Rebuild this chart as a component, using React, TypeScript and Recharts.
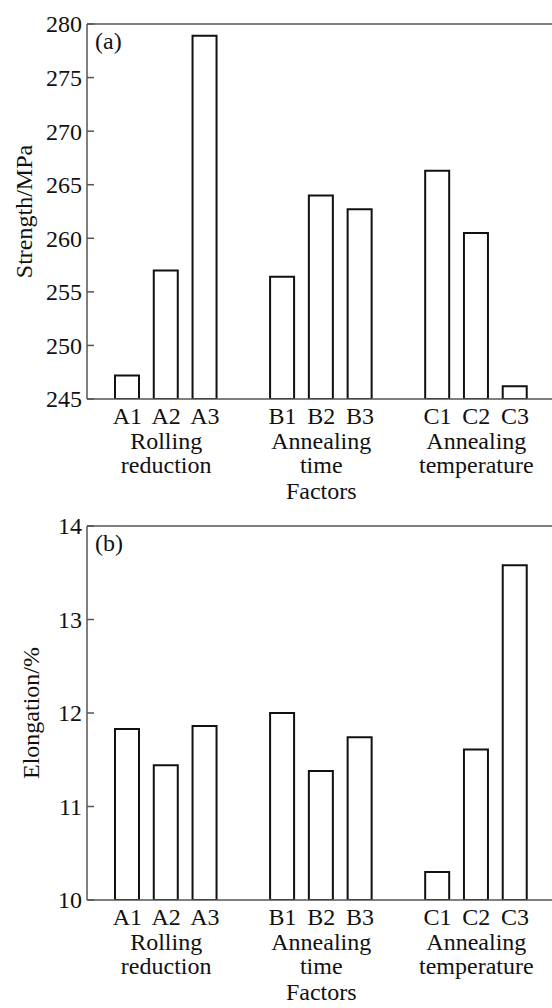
import { BarChart, Bar, XAxis, YAxis, ReferenceLine } from "recharts";

// categories with two empty slots separating the three factor groups
const categories = ["A1", "A2", "A3", "_g1", "B1", "B2", "B3", "_g2", "C1", "C2", "C3"];
const strength = [247.2, 257.0, 278.9, null, 256.4, 264.0, 262.7, null, 266.3, 260.5, 246.2];
const elongation = [11.83, 11.44, 11.86, null, 12.0, 11.38, 11.74, null, 10.3, 11.61, 13.58];

const strengthTicks = [245, 250, 255, 260, 265, 270, 275, 280];
const elongationTicks = [10, 11, 12, 13, 14];

const groupCenters = ["A2", "B2", "C2"];
const groupLines = [
  ["Rolling", "reduction"],
  ["Annealing", "time"],
  ["Annealing", "temperature"],
];

const FONT = "Liberation Serif, DejaVu Serif, serif";
const FS = 24;
const TEXT = "#111";
const AXIS = "#555";
const txt = { fontFamily: FONT, fontSize: FS };

const YTick = ({ x, y, payload }: any) => (
  <g>
    <line x1={x} x2={x + 7} y1={y} y2={y} stroke={AXIS} strokeWidth={1.5} />
    <text x={x - 5} y={y} dy="0.35em" textAnchor="end" style={txt} fill={TEXT}>
      {payload.value}
    </text>
  </g>
);

const XTick = ({ x, y, payload }: any) => {
  const name = String(payload.value);
  if (name.startsWith("_")) return <g />;
  const gi = groupCenters.indexOf(name);
  return (
    <g style={txt} fill={TEXT}>
      <text x={x} y={y + 25} textAnchor="middle" style={txt}>
        {name}
      </text>
      {gi >= 0 &&
        groupLines[gi].map((line, i) => (
          <text key={i} x={x} y={y + 50 + 24 * i} textAnchor="middle" style={txt}>
            {line}
          </text>
        ))}
    </g>
  );
};

interface PanelProps {
  values: (number | null)[];
  ticks: number[];
  yLabel: string;
  yLabelOffset: number;
  tag: string;
  height: number;
  top: number;
  xAxisHeight: number;
  factorsOffset: number;
}

function Panel({ values, ticks, yLabel, yLabelOffset, tag, height, top, xAxisHeight, factorsOffset }: PanelProps) {
  const data = categories.map((name, i) => ({ name, value: values[i] }));
  const lo = ticks[0];
  const hi = ticks[ticks.length - 1];
  return (
    <BarChart
      width={570}
      height={height}
      data={data}
      margin={{ top, right: 14.5, left: 0, bottom: 0 }}
      style={{ fontFamily: FONT }}
    >
      <XAxis
        dataKey="name"
        type="category"
        height={xAxisHeight}
        padding={{ left: 21, right: 21 }}
        axisLine={{ stroke: AXIS, strokeWidth: 1.5 }}
        tickLine={false}
        tickSize={0}
        tickMargin={0}
        interval={0}
        tick={<XTick />}
        label={{
          value: "Factors",
          position: "insideBottom",
          offset: factorsOffset,
          fontSize: FS,
          fill: TEXT,
          style: { fontFamily: FONT },
        }}
      />
      <YAxis
        type="number"
        width={87}
        domain={[lo, hi]}
        ticks={ticks}
        allowDataOverflow
        axisLine={{ stroke: AXIS, strokeWidth: 1.5 }}
        tickLine={false}
        tickSize={0}
        tickMargin={0}
        tick={<YTick />}
        label={{
          value: yLabel,
          angle: -90,
          position: "insideLeft",
          offset: yLabelOffset,
          fontSize: FS,
          fill: TEXT,
          style: { textAnchor: "middle", fontFamily: FONT },
        }}
      />
      <ReferenceLine
        y={hi}
        stroke={AXIS}
        strokeWidth={1.5}
        label={{
          value: tag,
          position: "insideTopLeft",
          offset: 8,
          fontSize: FS,
          fill: TEXT,
          style: { fontFamily: FONT },
        }}
      />
      <Bar dataKey="value" barSize={24} fill="#fff" stroke="#111" strokeWidth={2} isAnimationActive={false} />
    </BarChart>
  );
}

export default function App() {
  return (
    <div
      style={{
        position: "absolute",
        left: 0,
        top: 0,
        width: 552,
        height: 1008,
        overflow: "hidden",
        background: "#fff",
        fontFamily: FONT,
      }}
    >
      <div style={{ position: "absolute", left: 0, top: 0 }}>
        <Panel
          values={strength}
          ticks={strengthTicks}
          yLabel="Strength/MPa"
          yLabelOffset={23}
          tag="(a)"
          height={512}
          top={24}
          xAxisHeight={113}
          factorsOffset={13}
        />
      </div>
      <div style={{ position: "absolute", left: 0, top: 512 }}>
        <Panel
          values={elongation}
          ticks={elongationTicks}
          yLabel="Elongation/%"
          yLabelOffset={30}
          tag="(b)"
          height={496}
          top={14}
          xAxisHeight={108}
          factorsOffset={8}
        />
      </div>
    </div>
  );
}
